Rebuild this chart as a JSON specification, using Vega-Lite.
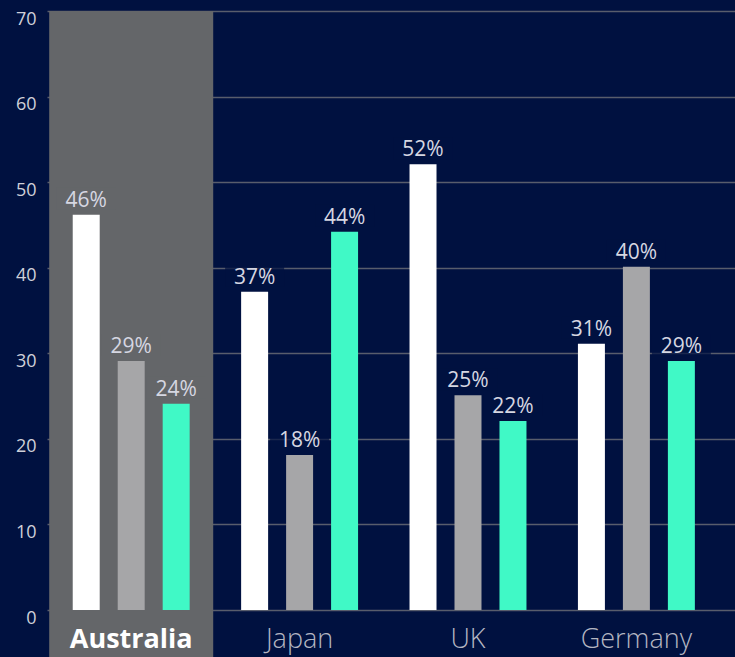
{
  "$schema": "https://vega.github.io/schema/vega-lite/v6.json",
  "width": 688,
  "height": 599,
  "autosize": "none",
  "padding": {"left": 47, "top": 11, "right": 0, "bottom": 47},
  "background": "#001140",
  "config": {"view": {"stroke": null}, "font": "Open Sans"},
  "data": {
    "values": [
      {"country": "Australia", "series": "s1", "value": 46.2, "label": "46%"},
      {"country": "Australia", "series": "s2", "value": 29.1, "label": "29%"},
      {"country": "Australia", "series": "s3", "value": 24.1, "label": "24%"},
      {"country": "Japan", "series": "s1", "value": 37.2, "label": "37%"},
      {"country": "Japan", "series": "s2", "value": 18.1, "label": "18%"},
      {"country": "Japan", "series": "s3", "value": 44.2, "label": "44%"},
      {"country": "UK", "series": "s1", "value": 52.1, "label": "52%"},
      {"country": "UK", "series": "s2", "value": 25.1, "label": "25%"},
      {"country": "UK", "series": "s3", "value": 22.1, "label": "22%"},
      {"country": "Germany", "series": "s1", "value": 31.1, "label": "31%"},
      {"country": "Germany", "series": "s2", "value": 40.1, "label": "40%"},
      {"country": "Germany", "series": "s3", "value": 29.1, "label": "29%"}
    ]
  },
  "encoding": {
    "x": {
      "field": "country",
      "type": "nominal",
      "sort": ["Australia", "Japan", "UK", "Germany"],
      "scale": {"paddingInner": 0, "paddingOuter": 0.04276, "align": 0},
      "axis": {
        "title": null,
        "domain": false,
        "ticks": false,
        "grid": false,
        "labelAngle": 0,
        "labelFontSize": 27,
        "labelPadding": 16,
        "labelFontWeight": {"condition": {"test": "datum.value === 'Australia'", "value": "bold"}, "value": 300},
        "labelColor": {"condition": {"test": "datum.value === 'Australia'", "value": "#ffffff"}, "value": "#b4b6c2"},
        "zindex": 1
      }
    }
  },
  "layer": [
    {
      "data": {"values": [{"country": "Australia"}]},
      "mark": {"type": "bar", "color": "#646669", "width": {"band": 0.974}},
      "encoding": {
        "y": {"datum": 70, "type": "quantitative", "scale": {"domain": [0, 70], "nice": false},
          "axis": {
            "title": null, "domain": false, "ticks": false, "grid": true,
            "values": [0, 10, 20, 30, 40, 50, 60, 70],
            "labelFontSize": 18, "labelColor": "#cfd0d8", "labelPadding": 11, "labelOffset": 8,
            "gridColor": "#585d6c", "gridWidth": 1.5, "zindex": 0
          }},
        "y2": {"datum": -5.5}
      }
    },
    {
      "mark": {"type": "tick", "thickness": 22, "yOffset": -16},
      "encoding": {
        "xOffset": {"field": "series", "type": "nominal", "scale": {"paddingInner": 0.4, "paddingOuter": 0.572}},
        "y": {"field": "value", "type": "quantitative"},
        "size": {"value": 59},
        "color": {"condition": {"test": "datum.country === 'Australia'", "value": "#646669"}, "value": "#001140"}
      }
    },
    {
      "mark": {"type": "bar"},
      "encoding": {
        "xOffset": {"field": "series", "type": "nominal", "scale": {"paddingInner": 0.4, "paddingOuter": 0.572}},
        "y": {"field": "value", "type": "quantitative"},
        "color": {"field": "series", "type": "nominal", "scale": {"domain": ["s1", "s2", "s3"], "range": ["#ffffff", "#a6a6a8", "#40f9c6"]}, "legend": null}
      }
    },
    {
      "mark": {"type": "text", "fontSize": 21, "color": "#d6d7e2", "baseline": "alphabetic", "dy": -8},
      "encoding": {
        "xOffset": {"field": "series", "type": "nominal", "scale": {"paddingInner": 0.4, "paddingOuter": 0.572}},
        "y": {"field": "value", "type": "quantitative"},
        "text": {"field": "label"}
      }
    }
  ]
}
